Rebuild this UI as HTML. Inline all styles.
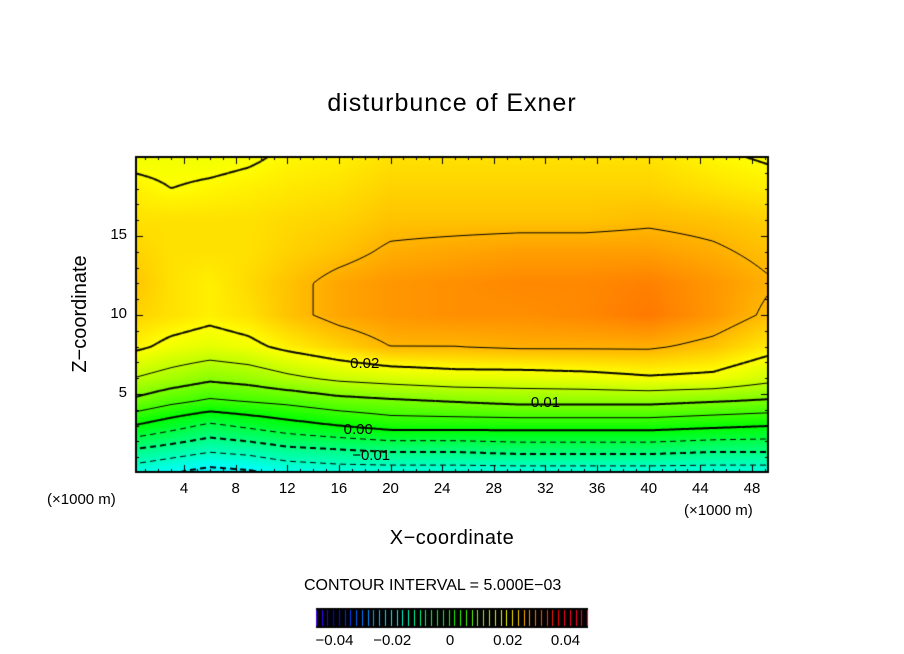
<!DOCTYPE html>
<html><head><meta charset="utf-8">
<style>
body{margin:0;background:#fff;width:904px;height:654px;overflow:hidden;position:relative;font-family:"Liberation Sans",sans-serif;}
.t{position:absolute;white-space:nowrap;color:#000;}
canvas{position:absolute;left:0;top:0;}
</style></head><body>
<canvas id="c" width="904" height="654"></canvas>
<div class="t" style="left:0;width:904px;text-align:center;top:89px;font-size:25px;letter-spacing:1px;">disturbunce of Exner</div>
<div class="t" style="left:0;width:904px;text-align:center;top:527px;font-size:20px;letter-spacing:0.5px;">X−coordinate</div>
<div class="t" style="left:-5px;top:303px;width:180px;text-align:center;font-size:20px;transform:rotate(-90deg);transform-origin:90px 11px;margin-left:-5px;">Z−coordinate</div>
<div class="t" style="left:47px;top:491px;font-size:15px;">(×1000 m)</div>
<div class="t" style="left:684px;top:502px;font-size:15px;">(×1000 m)</div>
<div class="t" style="left:304px;top:577px;font-size:16px;">CONTOUR INTERVAL = 5.000E−03</div>
<div id="labels"></div>
<script>
const xs=[0,3,6,9,12,16,20,25,30,35,40,45,50];
const zs=[0,1.5,3,4.5,6,8,10,12,14,16,18,20];
const col0=[-0.018,-0.010,0.000,0.009,0.015,0.021,0.023,0.024,0.023,0.022,0.021,0.019];
const col3=[-0.020,-0.012,-0.003,0.006,0.013,0.019,0.022,0.022,0.022,0.022,0.020,0.019];
const col6=[-0.022,-0.014,-0.006,0.004,0.011,0.018,0.021,0.021,0.022,0.022,0.0205,0.019];
const col9=[-0.021,-0.013,-0.004,0.005,0.012,0.019,0.022,0.0225,0.022,0.022,0.021,0.0195];
const col12=[-0.019,-0.011,-0.002,0.006,0.014,0.021,0.024,0.024,0.023,0.0225,0.0215,0.0205];
const col16=[-0.018,-0.010,0.000,0.008,0.016,0.023,0.026,0.026,0.024,0.023,0.022,0.021];
const col20=[-0.018,-0.009,0.002,0.009,0.017,0.025,0.027,0.027,0.0255,0.024,0.023,0.022];
const col25=[-0.018,-0.009,0.002,0.010,0.018,0.025,0.0275,0.0275,0.026,0.024,0.023,0.022];
const col30=[-0.018,-0.008,0.002,0.011,0.018,0.0255,0.0275,0.028,0.0265,0.024,0.023,0.022];
const col35=[-0.018,-0.008,0.002,0.011,0.0185,0.0255,0.028,0.028,0.0265,0.024,0.023,0.022];
const col40=[-0.018,-0.008,0.002,0.011,0.0195,0.0255,0.029,0.0285,0.0265,0.0245,0.023,0.022];
const col45=[-0.018,-0.009,0.001,0.010,0.019,0.024,0.027,0.027,0.0255,0.024,0.022,0.0205];
const col50=[-0.018,-0.009,0.000,0.009,0.016,0.021,0.024,0.025,0.024,0.023,0.021,0.0195];
const field=[col0,col3,col6,col9,col12,col16,col20,col25,col30,col35,col40,col45,col50];
const xTicks=[4,8,12,16,20,24,28,32,36,40,44,48];
const zTicks=[5,10,15];
const cbTicks=[-0.04,-0.02,0,0.02,0.04];
const cbLabels=["−0.04","−0.02","0","0.02","0.04"];
const contourLabels=[["0.02",18,6.9],["0.01",32,4.4],["0.00",17.5,2.7],["−0.01",18.5,1.1]];

const L=136,R=768,T=157,B=472;
const X=v=>184+(v-4)*(568/44);
const Z=v=>473-v*15.8;
const xi=p=>4+(p-184)*44/568;
const zi=p=>(473-p)/15.8;
function seg(arr,v){let i=0;while(i<arr.length-2&&v>arr[i+1])i++;let t=(v-arr[i])/(arr[i+1]-arr[i]);return [i,Math.max(0,Math.min(1,t))];}
function val(x,z){const [i,tx]=seg(xs,x),[j,tz]=seg(zs,z);
 const a=field[i][j],b=field[i+1][j],c=field[i][j+1],d=field[i+1][j+1];
 return (a*(1-tx)+b*tx)*(1-tz)+(c*(1-tx)+d*tx)*tz;}
function hue(v){return v<0.02?120-3000*v:60-3500*(v-0.02);}
function rgb(v){const h=Math.max(-10,Math.min(280,hue(v)));const hh=((h%360)+360)%360;
 const f=n=>{const k=(n+hh/30)%12;return 255*(0.5-0.5*Math.max(-1,Math.min(k-3,9-k,1)));};return [f(0),f(8),f(4)];}
const cv=document.getElementById('c'),ctx=cv.getContext('2d');
const img=ctx.createImageData(R-L,B-T);
for(let py=0;py<B-T;py++)for(let px=0;px<R-L;px++){const v=val(xi(L+px+0.5),zi(T+py+0.5));const c=rgb(v);const k=(py*(R-L)+px)*4;img.data[k]=c[0];img.data[k+1]=c[1];img.data[k+2]=c[2];img.data[k+3]=255;}
ctx.putImageData(img,L,T);
const st=2,nx=Math.ceil((R-L)/st),ny=Math.ceil((B-T)/st);
const g=[];for(let j=0;j<=ny;j++){g.push([]);for(let i=0;i<=nx;i++)g[j].push(val(xi(Math.min(R,L+i*st)),zi(Math.min(B,T+j*st))));}
ctx.save();ctx.beginPath();ctx.rect(L,T,R-L,B-T);ctx.clip();
for(let n=-4;n<=7;n++){const lev=n*0.005;
 const major=(n%2===0);
 ctx.lineWidth=major?2:1;ctx.strokeStyle='#000';
 for(let j=0;j<ny;j++)for(let i=0;i<nx;i++){
  const p=[[i,j],[i+1,j],[i+1,j+1],[i,j+1]].map(([a,b])=>[L+a*st,T+b*st,g[b][a]]);
  const pts=[];
  for(let e=0;e<4;e++){const A=p[e],Bq=p[(e+1)%4];if((A[2]-lev)*(Bq[2]-lev)<0){const t=(lev-A[2])/(Bq[2]-A[2]);pts.push([A[0]+(Bq[0]-A[0])*t,A[1]+(Bq[1]-A[1])*t]);}}
  if(pts.length>=2){const mx=(pts[0][0]+pts[1][0])/2;if(lev<0&&(mx%10)>6)continue;
   ctx.beginPath();ctx.moveTo(pts[0][0],pts[0][1]);ctx.lineTo(pts[1][0],pts[1][1]);if(pts.length===4){ctx.moveTo(pts[2][0],pts[2][1]);ctx.lineTo(pts[3][0],pts[3][1]);}ctx.stroke();}
 }}
ctx.restore();
ctx.strokeStyle='#000';ctx.lineWidth=2;ctx.strokeRect(L,T,R-L,B-T);ctx.lineWidth=1;
for(let x=1;x<50;x++){const px=Math.round(X(x))+0.5;const len=x%4===0?7:3;ctx.beginPath();ctx.moveTo(px,B);ctx.lineTo(px,B-len);ctx.moveTo(px,T);ctx.lineTo(px,T+len);ctx.stroke();}
for(let z=1;z<20;z++){const py=Math.round(Z(z))+0.5;const len=z%5===0?7:3;ctx.beginPath();ctx.moveTo(L,py);ctx.lineTo(L+len,py);ctx.moveTo(R,py);ctx.lineTo(R-len,py);ctx.stroke();}
ctx.fillStyle='#000';ctx.fillRect(316,608,272,20);
const cbX=v=>450+v*2887;
for(let v=-0.0465;v<0.0476;v+=0.002){const c=rgb(v);ctx.strokeStyle=`rgb(${c[0]|0},${c[1]|0},${c[2]|0})`;const px=Math.round(cbX(v))+0.5;ctx.beginPath();ctx.moveTo(px,610);ctx.lineTo(px,626);ctx.stroke();}
const lab=document.getElementById('labels');
function addT(txt,x,y,size,name,align){const d=document.createElement('div');d.className='t';d.textContent=txt;d.style.fontSize=size+'px';d.style.top=y+'px';
 d.style.left=(x-60)+'px';d.style.width='120px';d.style.textAlign='center';
 if(align==='r'){d.style.left=(x-120)+'px';d.style.textAlign='right';}
 
 
 lab.appendChild(d);return d;}
xTicks.forEach(v=>addT(String(v),X(v),480,15,'x-tick-label','c'));
zTicks.forEach(v=>addT(String(v),127,Z(v)-10,15,'y-tick-label','r'));
cbTicks.forEach((v,k)=>addT(cbLabels[k],cbX(v),632,15,'colorbar-tick-label','c'));
contourLabels.forEach(([t,x,z])=>{addT(t,X(x),Z(z)-9,15,'contour-label','c');});
</script>
</body></html>
